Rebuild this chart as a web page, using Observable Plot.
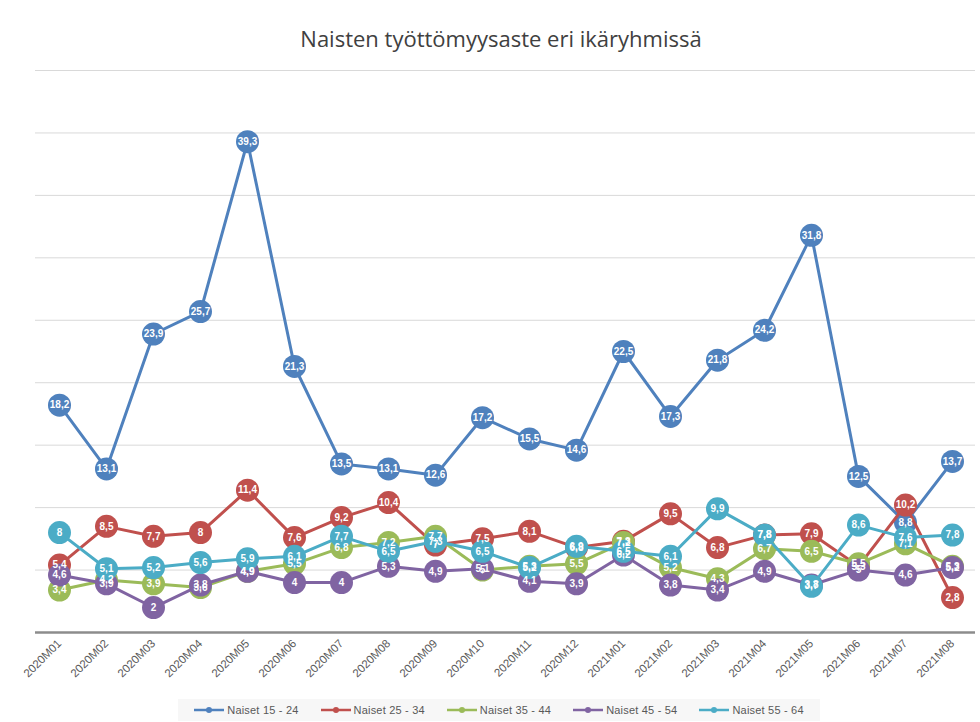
<!DOCTYPE html>
<html>
<head>
<meta charset="utf-8">
<script src="https://cdn.jsdelivr.net/npm/d3@7"></script>
<script src="https://cdn.jsdelivr.net/npm/@observablehq/plot@0.6"></script>
<style>
  html, body { margin: 0; padding: 0; background: #fff; }
  body { width: 980px; height: 722px; overflow: hidden; font-family: "Liberation Sans", "Open Sans", sans-serif; position: relative; }
  #title { height: 56px; box-sizing: border-box; padding-top: 25px; text-align: center; padding-left: 22px;
           font-size: 22px; line-height: 26px; color: #404040; font-family: "Open Sans", "Liberation Sans", sans-serif; }
  #legend { position: absolute; left: 178px; top: 699px; width: 642px; height: 22px; background: #f7f7f7;
            display: flex; align-items: center; justify-content: center; gap: 22px; font-size: 11px; color: #595959; }
  #legend .item { display: flex; align-items: center; gap: 3px; letter-spacing: 0.2px; }
</style>
</head>
<body>
<div id="title">Naisten työttömyysaste eri ikäryhmissä</div>
<div id="chart"></div>
<div id="legend"></div>
<script>
const months = ["2020M01","2020M02","2020M03","2020M04","2020M05","2020M06","2020M07","2020M08","2020M09","2020M10","2020M11","2020M12",
                "2021M01","2021M02","2021M03","2021M04","2021M05","2021M06","2021M07","2021M08"];
const seriesNames = ["Naiset 15 - 24","Naiset 25 - 34","Naiset 35 - 44","Naiset 45 - 54","Naiset 55 - 64"];
const seriesColors = ["#4f81bd","#c0504d","#9bbb59","#8064a2","#4bacc6"];
const naiset15_24 = [18.2,13.1,23.9,25.7,39.3,21.3,13.5,13.1,12.6,17.2,15.5,14.6,22.5,17.3,21.8,24.2,31.8,12.5,8.8,13.7];
const naiset25_34 = [5.4,8.5,7.7,8,11.4,7.6,9.2,10.4,7.0,7.5,8.1,6.8,7.3,9.5,6.8,7.8,7.9,5.3,10.2,2.8];
const naiset35_44 = [3.4,4.2,3.9,3.6,4.9,5.5,6.8,7.2,7.7,5.0,5.3,5.5,7.2,5.2,4.3,6.7,6.5,5.5,7.1,5.3];
const naiset45_54 = [4.6,3.9,2,3.8,4.9,4,4,5.3,4.9,5.1,4.1,3.9,6.2,3.8,3.4,4.9,3.8,5,4.6,5.2];
const naiset55_64 = [8,5.1,5.2,5.6,5.9,6.1,7.7,6.5,7.3,6.5,5.2,6.9,6.5,6.1,9.9,7.8,3.7,8.6,7.6,7.8];
const gridValues = [5,10,15,20,25,30,35,40,45];

const allValues = [naiset15_24, naiset25_34, naiset35_44, naiset45_54, naiset55_64];
const seriesData = allValues.map((vals, i) => vals.map((v, j) => ({month: months[j], value: v, series: seriesNames[i]})));
const fmt = v => String(v).replace(".", ",");

const marks = [
  Plot.ruleY(gridValues, {stroke: "#d9d9d9", strokeWidth: 1}),
  Plot.ruleY([0], {stroke: "#8c8c8c", strokeWidth: 2.5}),
  Plot.axisX({tickRotate: -45, tickSize: 0, tickPadding: 9, fontSize: 11.5, fill: "#595959", label: null})
];
seriesData.forEach((d, i) => {
  marks.push(Plot.line(d, {x: "month", y: "value", stroke: seriesColors[i], strokeWidth: 3}));
  marks.push(Plot.dot(d, {x: "month", y: "value", r: 11.5, fill: seriesColors[i], stroke: "none"}));
});
seriesData.forEach((d, i) => {
  marks.push(Plot.text(d, {x: "month", y: "value", text: dd => fmt(dd.value), fill: "white", fontWeight: "bold", fontSize: 10}));
});

const chart = Plot.plot({
  width: 980, height: 644,
  marginTop: 14, marginBottom: 68, marginLeft: 35, marginRight: 5,
  style: {fontFamily: "'Liberation Sans', 'Open Sans', sans-serif", background: "transparent"},
  x: {type: "point", domain: months, padding: 0.5},
  y: {domain: [0, 45], axis: null},
  marks
});
document.getElementById("chart").appendChild(chart);

const legend = document.getElementById("legend");
seriesNames.forEach((name, i) => {
  const item = document.createElement("div");
  item.className = "item";
  item.innerHTML = `<svg width="30" height="10"><line x1="0" y1="5" x2="30" y2="5" stroke="${seriesColors[i]}" stroke-width="2.5"/><circle cx="15" cy="5" r="3" fill="${seriesColors[i]}"/></svg><span>${name}</span>`;
  legend.appendChild(item);
});
</script>
</body>
</html>
